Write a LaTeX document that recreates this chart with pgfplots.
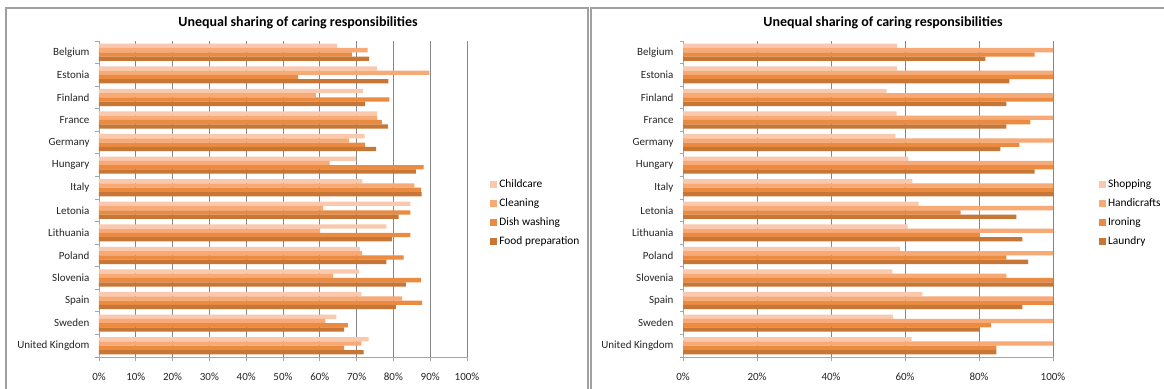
\documentclass[border=0pt]{standalone}
\usepackage{pgfplots}
\pgfplotsset{compat=1.18}
\usepackage{pgfplotstable}
\usepackage{fontspec}
\setmainfont{Carlito}
\definecolor{cA}{HTML}{FAC8AD}
\definecolor{cB}{HTML}{F7A976}
\definecolor{cC}{HTML}{EB8B41}
\definecolor{cD}{HTML}{C87636}
\definecolor{gridc}{HTML}{868686}
\definecolor{axisc}{HTML}{A6A6A6}
\definecolor{framec}{HTML}{A0A0A0}

\pgfplotstableread{
pos c1 c2 c3 c4
13 64.7 73.0 68.7 73.4
12 75.6 89.8 54.1 78.6
11 71.7 58.9 78.9 72.3
10 75.6 75.6 76.9 78.5
9 72.2 68.0 72.3 75.3
8 69.9 62.7 88.2 86.1
7 71.6 85.7 87.5 87.7
6 84.6 60.9 84.6 81.4
5 78.1 60.1 84.6 79.6
4 70.9 71.5 82.8 78.1
3 70.7 63.6 87.5 83.4
2 71.3 82.4 87.8 80.7
1 64.5 61.5 67.6 66.6
0 73.3 71.3 66.6 71.9
}\leftdata

\pgfplotstableread{
pos c1 c2 c3 c4
13 57.9 100 95.0 81.7
12 57.9 100 100 88.2
11 55.0 100 100 87.4
10 57.7 100 93.9 87.4
9 57.4 100 90.9 85.8
8 60.9 100 100 95.0
7 62.0 100 100 100
6 63.7 100 75.0 90.1
5 60.7 100 80.2 91.7
4 58.7 100 87.4 93.3
3 56.6 87.4 100 100
2 64.7 100 100 91.7
1 56.8 100 83.3 80.1
0 61.8 100 84.7 84.7
}\rightdata

\pgfplotsset{
  sqlegend/.style={legend image code/.code={\fill[##1] (0pt,-3.5pt) rectangle (7pt,3.5pt);}},
  mybar/.style={xbar, bar width=4.3pt, draw=none, sqlegend},
  excel/.style={
    scale only axis,
    height=316pt,
    ymin=-0.5, ymax=13.5,
    xmin=0, xmax=100,
    axis lines*=left,
    axis line style={draw=axisc, line width=0.8pt},
    ytick={-0.5,0.5,...,13.5},
    yticklabels={},
    major tick length=3.5pt,
    tick align=outside,
    tick style={draw=axisc, line width=0.8pt},
    extra y ticks={0,...,13},
    extra y tick labels={United Kingdom,Sweden,Spain,Slovenia,Poland,Lithuania,Letonia,Italy,Hungary,Germany,France,Finland,Estonia,Belgium},
    extra y tick style={major tick length=0pt, yticklabel style={xshift=-6pt}},
    xmajorgrids,
    grid style={draw=gridc, line width=0.7pt},
    xticklabel={\pgfmathprintnumber{\tick}\%},
    /pgf/number format/assume math mode=true,
    xticklabel style={yshift=-9pt},
    tick label style={font=\fontsize{11}{13}\selectfont, text=black!85},
    legend style={draw=none, fill=none, font=\fontsize{11.4}{13}\selectfont, row sep=5.6pt, anchor=north west, inner sep=0pt},
    legend cell align=left,
    clip=false,
  }
}

\begin{document}
\begin{tikzpicture}[x=1pt,y=1pt]
\useasboundingbox (0,0) rectangle (1164,388);
\clip (0,0) rectangle (1164,388);
\fill[white] (0,0) rectangle (1164,388);
\draw[framec, line width=1.3pt] (6,-5) rectangle (588,380);
\draw[framec, line width=1.3pt] (591,-5) rectangle (1180,380);
\node[font=\fontsize{14}{16}\selectfont\bfseries] at (298,365) {Unequal sharing of caring responsibilities};
\node[font=\fontsize{14}{16}\selectfont\bfseries] at (883,365) {Unequal sharing of caring responsibilities};

\begin{axis}[excel, at={(99pt,31pt)}, anchor=south west, width=368pt,
  xtick={0,10,...,100},
  legend style={at={(1.063,0.567)}}]
\addplot[mybar, fill=cA, bar shift=6.45pt] table[x=c1,y=pos] {\leftdata};
\addplot[mybar, fill=cB, bar shift=2.15pt] table[x=c2,y=pos] {\leftdata};
\addplot[mybar, fill=cC, bar shift=-2.15pt] table[x=c3,y=pos] {\leftdata};
\addplot[mybar, fill=cD, bar shift=-6.45pt] table[x=c4,y=pos] {\leftdata};
\legend{Childcare,Cleaning,Dish washing,Food preparation}
\end{axis}

\begin{axis}[excel, at={(683pt,31pt)}, anchor=south west, width=370pt,
  xtick={0,20,...,100},
  legend style={at={(1.124,0.567)}}]
\addplot[mybar, fill=cA, bar shift=6.45pt] table[x=c1,y=pos] {\rightdata};
\addplot[mybar, fill=cB, bar shift=2.15pt] table[x=c2,y=pos] {\rightdata};
\addplot[mybar, fill=cC, bar shift=-2.15pt] table[x=c3,y=pos] {\rightdata};
\addplot[mybar, fill=cD, bar shift=-6.45pt] table[x=c4,y=pos] {\rightdata};
\legend{Shopping,Handicrafts,Ironing,Laundry}
\end{axis}
\end{tikzpicture}
\end{document}
